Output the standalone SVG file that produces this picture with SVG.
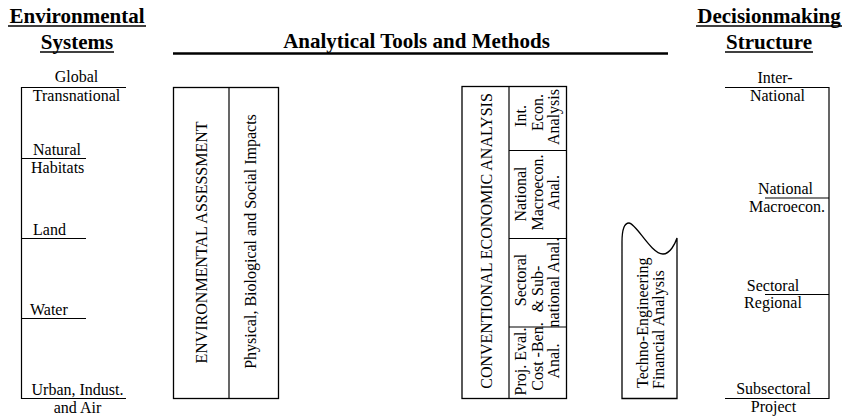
<svg xmlns="http://www.w3.org/2000/svg" width="847" height="419" viewBox="0 0 847 419">
<style>
text{font-family:"Liberation Serif","Times New Roman",serif;font-size:16px;fill:#000}
.h{font-size:21px;font-weight:bold;text-anchor:middle}
.c{text-anchor:middle}
.ln{stroke:#000;stroke-width:1.2;fill:none}
.ul{stroke:#000;stroke-width:1.6}
.box{stroke:#000;stroke-width:1.3;fill:#fff}
</style>
<rect width="847" height="419" fill="#fff"/>
<g id="headings">
<text class="h" x="77" y="23">Environmental</text>
<line class="ul" x1="8" y1="26" x2="146" y2="26"/>
<text class="h" x="77" y="48.5">Systems</text>
<line class="ul" x1="40" y1="52" x2="114" y2="52"/>
<text class="h" x="416.5" y="48">Analytical Tools and Methods</text>
<line x1="173" y1="53.5" x2="668" y2="53.5" stroke="#000" stroke-width="2.6"/>
<text class="h" x="769" y="23">Decisionmaking</text>
<line class="ul" x1="696" y1="26" x2="842" y2="26"/>
<text class="h" x="769" y="48.5">Structure</text>
<line class="ul" x1="725" y1="52" x2="813" y2="52"/>
</g>
<g id="env-systems">
<path class="ln" d="M126,87.5 H21.5 V398.5 H126"/>
<line class="ln" x1="21.5" y1="158.5" x2="86" y2="158.5"/>
<line class="ln" x1="21.5" y1="238.5" x2="86" y2="238.5"/>
<line class="ln" x1="21.5" y1="318.5" x2="86" y2="318.5"/>
<text class="c" x="76.5" y="82">Global</text>
<text class="c" x="76.5" y="101">Transnational</text>
<text x="33" y="155">Natural</text>
<text x="31" y="172.5">Habitats</text>
<text x="33" y="234.5">Land</text>
<text x="30" y="314.5">Water</text>
<text class="c" x="77.5" y="394.5">Urban, Indust.</text>
<text class="c" x="77.5" y="413">and Air</text>
</g>
<g id="env-assessment">
<rect class="box" x="173.5" y="87.5" width="105" height="311"/>
<line class="ln" x1="229" y1="87.5" x2="229" y2="398.5"/>
<text class="c" transform="translate(207,242.5) rotate(-90)">ENVIRONMENTAL ASSESSMENT</text>
<text class="c" transform="translate(256,241.5) rotate(-90)">Physical, Biological and Social Impacts</text>
</g>
<g id="economic-analysis">
<rect class="box" x="462" y="86.5" width="104.5" height="312"/>
<line class="ln" x1="509" y1="86.5" x2="509" y2="398.5"/>
<line class="ln" x1="509" y1="150.5" x2="566.5" y2="150.5"/>
<line class="ln" x1="509" y1="238.5" x2="566.5" y2="238.5"/>
<line class="ln" x1="509" y1="327" x2="566.5" y2="327"/>
<text class="c" transform="translate(492,241) rotate(-90)">CONVENTIONAL ECONOMIC ANALYSIS</text>
<text class="c" transform="translate(526,116) rotate(-90)">Int.</text>
<text class="c" transform="translate(542.5,112.5) rotate(-90)">Econ.</text>
<text class="c" transform="translate(559,117) rotate(-90)">Analysis</text>
<text class="c" transform="translate(526,194) rotate(-90)">National</text>
<text class="c" transform="translate(542.5,192.5) rotate(-90)">Macroecon.</text>
<text class="c" transform="translate(559,192.5) rotate(-90)">Anal.</text>
<text class="c" transform="translate(526,280) rotate(-90)">Sectoral</text>
<text class="c" transform="translate(542.5,289) rotate(-90)">&amp; Sub-</text>
<text class="c" transform="translate(559,282.5) rotate(-90)">national Anal.</text>
<text class="c" transform="translate(526,361.5) rotate(-90)">Proj. Eval.</text>
<text class="c" transform="translate(542.5,356.5) rotate(-90)">Cost -Ben.</text>
<text class="c" transform="translate(559,361) rotate(-90)">Anal.</text>
</g>
<g id="techno-engineering">
<path class="box" d="M622,398.5 L622,242 C622,230 624,223 629,223 C636,223 651,254 663,254 C670,254 675,244 677,238 L677,398.5 Z"/>
<text transform="translate(647.5,388) rotate(-90)">Techno-Engineering</text>
<text transform="translate(663.5,389) rotate(-90)">Financial Analysis</text>
</g>
<g id="decision-structure">
<path class="ln" d="M725,87.5 H829 V398.5 H725"/>
<line class="ln" x1="765" y1="198" x2="829" y2="198"/>
<line class="ln" x1="765" y1="294.5" x2="829" y2="294.5"/>
<text class="c" x="775" y="82.5">Inter-</text>
<text class="c" x="777.5" y="100.5">National</text>
<text class="c" x="785.5" y="193.5">National</text>
<text class="c" x="787" y="212">Macroecon.</text>
<text class="c" x="773" y="290.5">Sectoral</text>
<text class="c" x="773" y="308">Regional</text>
<text class="c" x="773.5" y="393.5">Subsectoral</text>
<text class="c" x="773.5" y="412">Project</text>
</g>
</svg>
